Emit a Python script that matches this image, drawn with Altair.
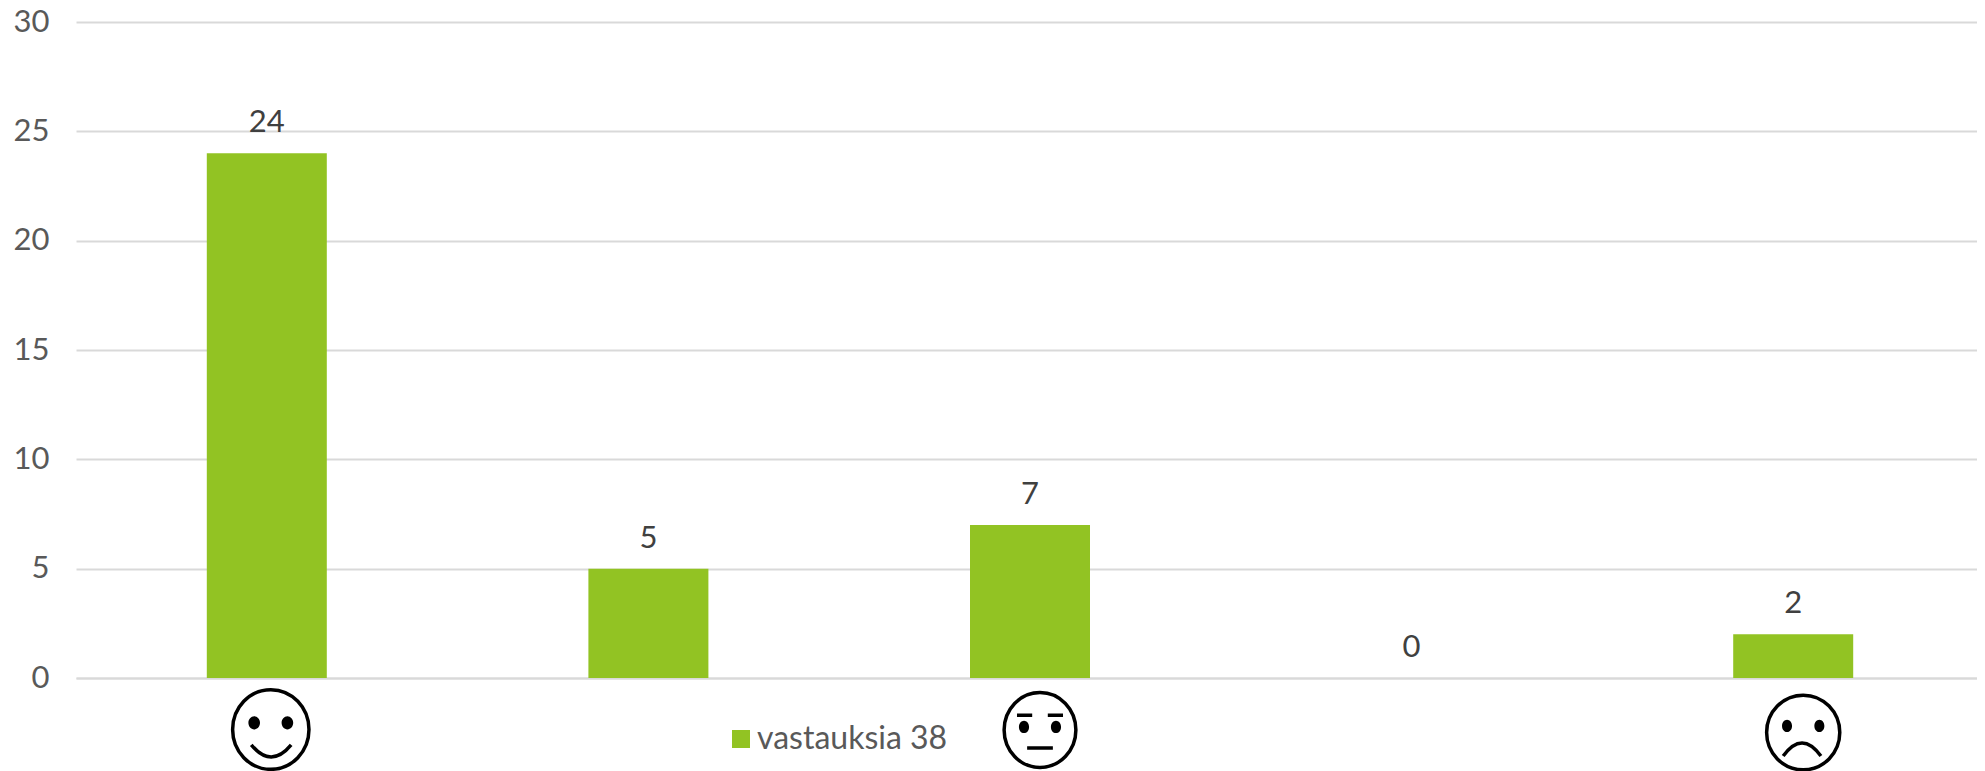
import altair as alt
import pandas as pd

categories = ["a", "b", "c", "d", "e"]
values = [24, 5, 7, 0, 2]
series_name = "vastauksia 38"
y_ticks = [0, 5, 10, 15, 20, 25, 30]
FONT = "Lato"
FS = 31


def ell(cx, cy, rx, ry):
    k = 0.5523
    return (f"M{cx-rx},{cy}C{cx-rx},{cy-k*ry},{cx-k*rx},{cy-ry},{cx},{cy-ry}"
            f"C{cx+k*rx},{cy-ry},{cx+rx},{cy-k*ry},{cx+rx},{cy}"
            f"C{cx+rx},{cy+k*ry},{cx+k*rx},{cy+ry},{cx},{cy+ry}"
            f"C{cx-k*rx},{cy+ry},{cx-rx},{cy+k*ry},{cx-rx},{cy}Z")


# (category, mark x nudge, pixel y, radius, outline, solid parts, stroked parts)
faces = [
    ("a", 4, 707.5, 41.5, ell(0, 0, 0.92, 0.96),
     ell(-0.4, -0.16, 0.14, 0.16) + ell(0.4, -0.16, 0.14, 0.16),
     "M-0.47,0.37Q0.01,0.95,0.49,0.37"),
    ("c", 10, 708, 39, ell(0, 0, 0.92, 0.96),
     ell(-0.41, -0.08, 0.13, 0.16) + ell(0.41, -0.08, 0.13, 0.16),
     "M-0.59,-0.38L-0.2,-0.38M0.2,-0.38L0.59,-0.38M-0.33,0.46L0.33,0.46"),
    ("e", 10, 710.5, 38.5, ell(0, 0, 0.95, 0.97),
     ell(-0.42, -0.17, 0.13, 0.16) + ell(0.42, -0.17, 0.13, 0.16),
     "M-0.52,0.61Q-0.03,-0.07,0.46,0.61"),
]

df = pd.DataFrame({"cat": categories, "value": values, "series": [series_name] * 5})

x = alt.X("cat:N", scale=alt.Scale(paddingInner=0, paddingOuter=0, domain=categories, range=[0, 1908]),
          axis=alt.Axis(labels=False, ticks=False, title=None, domain=True,
                        domainColor="#d9d9d9", domainWidth=2, grid=False))
y = alt.Y("value:Q", scale=alt.Scale(domain=[0, 30], nice=False),
          axis=alt.Axis(values=y_ticks, title=None, domain=False, ticks=False,
                        grid=True, gridColor="#d9d9d9", gridWidth=2,
                        labelFont=FONT, labelFontSize=FS, labelColor="#595959",
                        labelPadding=27))

bars = alt.Chart(df).mark_bar(size=120).encode(
    x=x, y=y,
    color=alt.Color("series:N", scale=alt.Scale(range=["#92c323"]),
                    legend=alt.Legend(orient="none", legendX=649, legendY=701, title=None,
                                      symbolType="square", symbolSize=324,
                                      labelFont=FONT, labelFontSize=32, labelColor="#595959",
                                      labelOffset=0, labelLimit=400)),
)
labels = alt.Chart(df).mark_text(font=FONT, fontSize=FS, color="#404040", dy=-21,
                                 baseline="alphabetic").encode(
    x=alt.X("cat:N"), y=alt.Y("value:Q"), text=alt.Text("value:Q"))

layers = [bars, labels]
for cat, nudge, py, r, outline, solid, stroked in faces:
    base = alt.Chart(pd.DataFrame({"cat": [cat]}))
    enc = dict(x=alt.X("cat:N"), y=alt.value(py))
    size = (2 * r) ** 2
    layers.append(base.mark_point(shape=outline, size=size, filled=False, stroke="black",
                                  strokeWidth=3.5, opacity=1, xOffset=nudge, clip=False).encode(**enc))
    layers.append(base.mark_point(shape=solid, size=size, filled=True, fill="black",
                                  opacity=1, xOffset=nudge, clip=False).encode(**enc))
    layers.append(base.mark_point(shape=stroked, size=size, filled=False, stroke="black",
                                  strokeWidth=3.5, opacity=1, xOffset=nudge, clip=False).encode(**enc))

chart = alt.layer(*layers).properties(
    width=1901, height=656,
    autosize=alt.AutoSizeParams(type="none"),
    padding={"left": 68, "top": 14, "right": 0, "bottom": 93},
).configure_view(stroke=None)

chart.save("out.html", embed_options={"renderer": "svg", "actions": False})
